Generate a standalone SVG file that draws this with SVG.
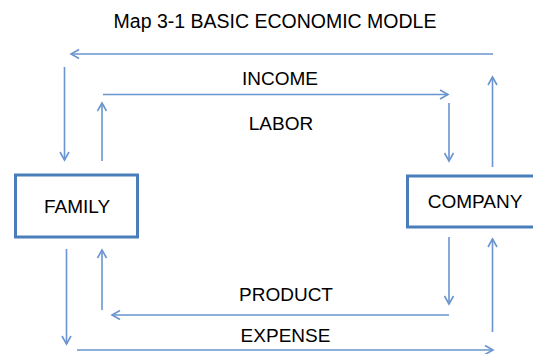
<svg xmlns="http://www.w3.org/2000/svg" width="533" height="354" viewBox="0 0 533 354">
  <style>
    .bg { fill: #ffffff; }
    .box { fill: #ffffff; stroke: #4a7ebb; stroke-width: 3; }
    .flow { fill: none; stroke: #6a95cf; stroke-width: 1.6; }
    .lbl { font-family: "Liberation Sans", Arial, sans-serif; font-size: 19px; fill: #000000; text-anchor: middle; }
    .title { font-size: 19.5px; }
  </style>
  <defs>
    <marker id="head" markerUnits="userSpaceOnUse" markerWidth="14" markerHeight="14" viewBox="-10 -7 14 14" refX="0" refY="0" orient="auto">
      <path d="M-8,-4.5 L0,0 L-8,4.5" fill="none" stroke="#6a95cf" stroke-width="1.6"/>
    </marker>
  </defs>
  <rect class="bg" x="0" y="0" width="533" height="354"/>

  <text class="lbl title" x="275" y="28">Map 3-1 BASIC ECONOMIC MODLE</text>

  <g id="connectors">
    <!-- outer loop, top: company back to family -->
    <line class="flow" x1="493" y1="54" x2="71" y2="54" marker-end="url(#head)"/>
    <line class="flow" x1="64.5" y1="67" x2="64.5" y2="160" marker-end="url(#head)"/>
    <line class="flow" x1="492.5" y1="167" x2="492.5" y2="77" marker-end="url(#head)"/>
    <!-- inner loop, top: family to company -->
    <line class="flow" x1="102" y1="161" x2="102" y2="103" marker-end="url(#head)"/>
    <line class="flow" x1="103" y1="94.5" x2="448" y2="94.5" marker-end="url(#head)"/>
    <line class="flow" x1="449" y1="103" x2="449" y2="161" marker-end="url(#head)"/>
    <!-- inner loop, bottom: company to family -->
    <line class="flow" x1="449" y1="237" x2="449" y2="304" marker-end="url(#head)"/>
    <line class="flow" x1="449" y1="315" x2="112" y2="315" marker-end="url(#head)"/>
    <line class="flow" x1="102" y1="310" x2="102" y2="250" marker-end="url(#head)"/>
    <!-- outer loop, bottom: family to company -->
    <line class="flow" x1="66.5" y1="249" x2="66.5" y2="344" marker-end="url(#head)"/>
    <line class="flow" x1="77" y1="350" x2="493" y2="350" marker-end="url(#head)"/>
    <line class="flow" x1="492.5" y1="332" x2="492.5" y2="239" marker-end="url(#head)"/>
  </g>

  <g id="labels">
    <text class="lbl" x="280" y="85">INCOME</text>
    <text class="lbl" x="281" y="130">LABOR</text>
    <text class="lbl" x="286" y="300.5">PRODUCT</text>
    <text class="lbl" x="285.5" y="342">EXPENSE</text>
  </g>

  <g id="family">
    <rect class="box" x="15.5" y="175" width="122" height="62"/>
    <text class="lbl" x="77" y="212.5">FAMILY</text>
  </g>

  <g id="company">
    <rect class="box" x="407.5" y="176" width="130" height="51"/>
    <text class="lbl" x="475" y="208">COMPANY</text>
  </g>
</svg>
